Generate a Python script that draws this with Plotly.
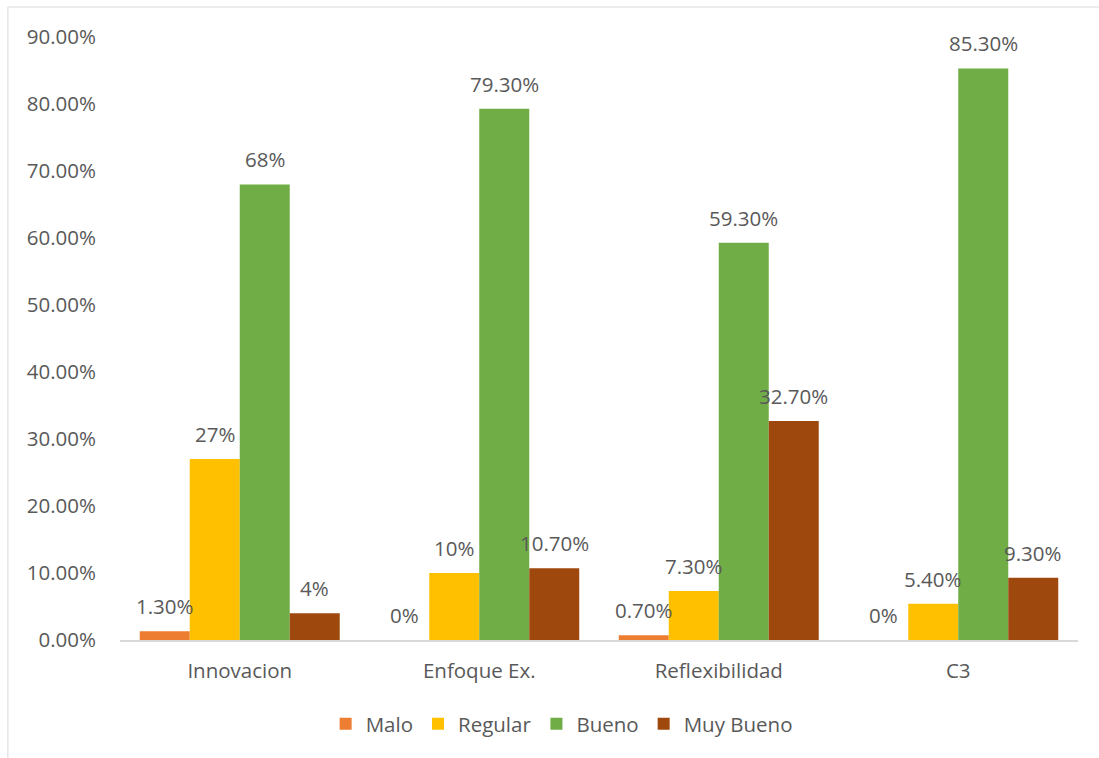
import plotly.graph_objects as go

categories = ["Innovacion", "Enfoque Ex.", "Reflexibilidad", "C3"]
series_names = ["Malo", "Regular", "Bueno", "Muy Bueno"]
malo = [0.013, 0.0, 0.007, 0.0]
regular = [0.27, 0.10, 0.073, 0.054]
bueno = [0.68, 0.793, 0.593, 0.853]
muy_bueno = [0.04, 0.107, 0.327, 0.093]
colors = ["#ED7D31", "#FFC000", "#70AD47", "#9E480E"]

series_values = [malo, regular, bueno, muy_bueno]
FONT = "Open Sans"
FONT_SIZE = 20.5
TEXT_COLOR = "#595959"
BARGAP = 0.165


def pct_label(v):
    p = round(v * 100, 2)
    if abs(p - round(p)) < 1e-9:
        return f"{int(round(p))}%"
    return f"{p:.2f}%"


fig = go.Figure()
for name, vals, col in zip(series_names, series_values, colors):
    fig.add_trace(go.Bar(
        name=name, x=categories, y=vals, marker=dict(color=col, line=dict(width=0)),
    ))

# value labels above each bar
n = len(series_names)
bar_w = (1 - BARGAP) / n
annotations = []
for i, vals in enumerate(series_values):
    for j, v in enumerate(vals):
        annotations.append(dict(
            x=j + (i - (n - 1) / 2) * bar_w, y=v, xref="x", yref="y",
            text=pct_label(v), showarrow=False, yanchor="bottom", yshift=9,
            font=dict(family=FONT, size=FONT_SIZE, color=TEXT_COLOR),
        ))

fig.update_layout(
    width=1099, height=758,
    margin=dict(l=120, r=21, t=37, b=118),
    paper_bgcolor="white", plot_bgcolor="white",
    barmode="group", bargap=BARGAP, bargroupgap=0,
    font=dict(family=FONT, size=FONT_SIZE, color=TEXT_COLOR),
    showlegend=True,
    legend=dict(orientation="h", x=0.461, xanchor="center", y=-0.139, yanchor="middle",
                font=dict(family=FONT, size=FONT_SIZE, color=TEXT_COLOR),
                traceorder="normal", itemwidth=30),
    annotations=annotations,
    shapes=[dict(type="rect", xref="paper", yref="paper",
                 x0=-0.117, x1=1.2, y0=-0.5, y1=1.0498,
                 line=dict(color="#D9D9D9", width=1), fillcolor="rgba(0,0,0,0)")],
)
fig.update_xaxes(showgrid=False, showline=True, linecolor="#D9D9D9", linewidth=1.5,
                 ticks="", ticklabelstandoff=12,
                 tickfont=dict(family=FONT, size=FONT_SIZE, color=TEXT_COLOR))
fig.update_yaxes(range=[0, 0.9], dtick=0.1, tickformat=".2%", showgrid=False,
                 showline=False, zeroline=False, ticks="", ticklabelstandoff=23,
                 tickfont=dict(family=FONT, size=FONT_SIZE, color=TEXT_COLOR))

fig.write_html("out.html")
